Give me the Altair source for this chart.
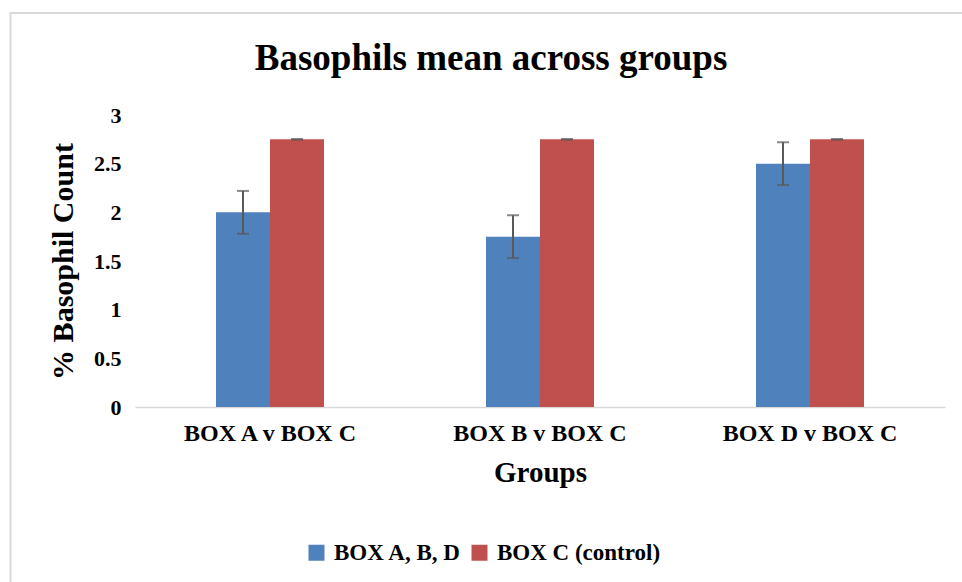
import altair as alt
import pandas as pd

groups = ["BOX A v BOX C", "BOX B v BOX C", "BOX D v BOX C"]
series = ["BOX A, B, D", "BOX C (control)"]
test_means = [2.0, 1.75, 2.5]
test_err = [0.22, 0.22, 0.22]
control_means = [2.75, 2.75, 2.75]
control_err = [0.0, 0.0, 0.0]
colors = ["#4f81bd", "#c0504d"]
y_ticks = [0, 0.5, 1, 1.5, 2, 2.5, 3]

rows = []
for g, m, e in zip(groups, test_means, test_err):
    rows.append({"group": g, "series": series[0], "mean": m, "lo": m - e, "hi": m + e})
for g, m, e in zip(groups, control_means, control_err):
    rows.append({"group": g, "series": series[1], "mean": m, "lo": m - e, "hi": m + e})
df = pd.DataFrame(rows)

FONT = "Liberation Serif"

x_enc = alt.X(
    "group:N", sort=groups, title="Groups",
    scale=alt.Scale(paddingInner=0.6, paddingOuter=0.3),
    axis=alt.Axis(labelAngle=0, ticks=False, domainColor="#d9d9d9", domainWidth=1.5,
                  labelFont=FONT, labelFontSize=24, labelFontWeight="bold", labelColor="#000000",
                  labelPadding=14, titleFont=FONT, titleFontSize=29, titleFontWeight="bold",
                  titleColor="#000000", titlePadding=13),
)
xoff = alt.XOffset("series:N", sort=series)

base = alt.Chart(df)

bars = base.mark_bar().encode(
    x=x_enc,
    xOffset=xoff,
    y=alt.Y("mean:Q", title="% Basophil Count",
            scale=alt.Scale(domain=[0, 3], nice=False),
            axis=alt.Axis(values=y_ticks, grid=False, domain=False, ticks=False,
                          labelExpr="datum.value + ''",
                          labelFont=FONT, labelFontSize=22, labelFontWeight="bold",
                          labelColor="#000000", labelPadding=14,
                          titleFont=FONT, titleFontSize=30, titleFontWeight="bold",
                          titleColor="#000000", titlePadding=15)),
    color=alt.Color("series:N", sort=series,
                    scale=alt.Scale(domain=series, range=colors),
                    legend=alt.Legend(title=None, orient="none", direction="horizontal",
                                      legendX=170, legendY=426, symbolType="square",
                                      symbolSize=256, symbolStrokeWidth=0, labelFont=FONT,
                                      labelFontSize=23, labelFontWeight="bold",
                                      labelColor="#000000", columnPadding=6, labelOffset=6,
                                      labelLimit=400, padding=0)),
)

err = base.mark_rule(color="#595959", strokeWidth=2).encode(
    x=alt.X("group:N", sort=groups), xOffset=xoff,
    y="lo:Q", y2="hi:Q",
)
cap_lo = base.mark_tick(color="#595959", thickness=2, size=12, orient="horizontal").encode(
    x=alt.X("group:N", sort=groups), xOffset=xoff, y="lo:Q",
)
cap_hi = base.mark_tick(color="#595959", thickness=2, size=12, orient="horizontal").encode(
    x=alt.X("group:N", sort=groups), xOffset=xoff, y="hi:Q",
)

frame = alt.Chart(pd.DataFrame({"f": [0]})).mark_rect(
    fill=None, stroke="#d9d9d9", strokeWidth=2
).encode(
    x=alt.value(-124.5), x2=alt.value(900), y=alt.value(-102), y2=alt.value(600)
)

chart = alt.layer(frame, bars, err, cap_lo, cap_hi).properties(
    width=810, height=292,
    padding={"left": 135, "top": 115, "right": 17, "bottom": 175},
    autosize=alt.AutoSizeParams(type="none"),
    title=alt.TitleParams("Basophils mean across groups", font=FONT, fontSize=37,
                          fontWeight="bold", color="#000000", anchor="middle",
                          frame="group", dx=-49, offset=0, baseline="bottom", dy=103),
    background="white",
).configure_view(stroke=None)

chart.save("out.html", embed_options={"renderer": "svg", "actions": False})
